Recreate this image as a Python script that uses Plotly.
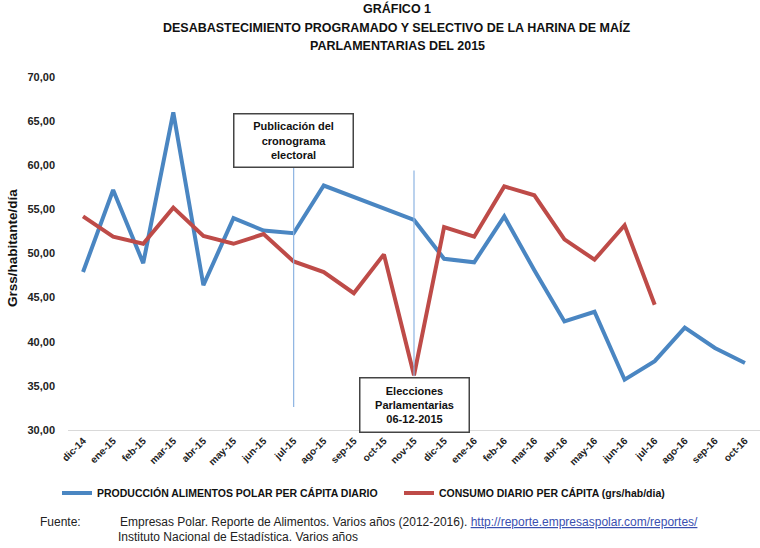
import plotly.graph_objects as go

# ---------------------------------------------------------------------------
# Data
# ---------------------------------------------------------------------------
MONTHS = [
    "dic-14", "ene-15", "feb-15", "mar-15", "abr-15", "may-15", "jun-15",
    "jul-15", "ago-15", "sep-15", "oct-15", "nov-15", "dic-15", "ene-16",
    "feb-16", "mar-16", "abr-16", "may-16", "jun-16", "jul-16", "ago-16",
    "sep-16", "oct-16",
]
PRODUCCION = [
    47.9, 57.2, 48.9, 66.0, 46.4, 54.0, 52.6, 52.3, 57.7, 56.4, 55.1, 53.8,
    49.4, 49.0, 54.2, 48.1, 42.3, 43.4, 35.7, 37.8, 41.6, 39.3, 37.6,
]
CONSUMO = [
    54.2, 51.9, 51.1, 55.2, 52.0, 51.1, 52.2, 49.1, 47.9, 45.5, 49.9, 36.2,
    53.0, 51.9, 57.6, 56.6, 51.6, 49.3, 53.2, 44.2,
]
Y_TICKS = [30, 35, 40, 45, 50, 55, 60, 65, 70]
TITLE_LINES = [
    "GRÁFICO 1",
    "DESABASTECIMIENTO PROGRAMADO Y SELECTIVO DE LA HARINA DE MAÍZ",
    "PARLAMENTARIAS DEL 2015",
]

# ---------------------------------------------------------------------------
# Styling / geometry
# ---------------------------------------------------------------------------
FONT = "Liberation Sans Narrow, Liberation Sans, Arial, sans-serif"
COLOR_PROD = "#4A86C2"   # blue
COLOR_CONS = "#BE4B48"   # red
COLOR_EVENT = "#8DB4E2"  # thin marker lines

W, H = 760, 548
L, R, T, B = 68, 0, 77, 118


def px_x(px):
    """Screen pixel x -> paper x."""
    return (px - L) / (W - L - R)


def px_y(py):
    """Screen pixel y -> paper y."""
    return (H - B - py) / (H - T - B)


fig = go.Figure()

fig.add_trace(go.Scatter(
    x=MONTHS,
    y=PRODUCCION,
    mode="lines",
    name="<b>PRODUCCIÓN ALIMENTOS POLAR PER CÁPITA DIARIO</b>",
    line=dict(color=COLOR_PROD, width=4),
))

fig.add_trace(go.Scatter(
    x=MONTHS[:len(CONSUMO)],
    y=CONSUMO,
    mode="lines",
    name="<b>CONSUMO DIARIO PER CÁPITA (grs/hab/dia)</b>",
    line=dict(color=COLOR_CONS, width=4),
))

# event lines
for month, y0, y1 in [("jul-15", 32.6, 59.7), ("nov-15", 36.1, 59.4)]:
    idx = MONTHS.index(month)
    fig.add_shape(type="line", xref="x", yref="y",
                  x0=idx, x1=idx, y0=y0, y1=y1,
                  line=dict(color=COLOR_EVENT, width=1.2))

# event boxes
box_font = dict(family=FONT, size=11, color="#111111")
fig.add_annotation(
    x=MONTHS.index("jul-15"), y=62.8, xref="x", yref="y",
    text="<b>Publicación del<br>cronograma<br>electoral</b>",
    showarrow=False, font=box_font, align="center",
    width=116, height=50, bgcolor="white",
    bordercolor="#444444", borderwidth=1.5,
)
fig.add_annotation(
    x=MONTHS.index("nov-15"), y=32.85, xref="x", yref="y",
    text="<b>Elecciones<br>Parlamentarias<br>06-12-2015</b>",
    showarrow=False, font=box_font, align="center",
    width=106, height=51, bgcolor="white",
    bordercolor="#444444", borderwidth=1.5,
)

# title: first line as the layout title, the rest as annotations
title_font = dict(family=FONT, size=12.5, color="#111111")
for i, line in enumerate(TITLE_LINES[1:], start=1):
    fig.add_annotation(
        x=px_x(397), y=px_y(9 + 18.5 * i),
        xref="paper", yref="paper", xanchor="center", yanchor="middle",
        text=f"<b>{line}</b>", showarrow=False, font=title_font,
    )

# y axis title
fig.add_annotation(
    x=px_x(12), y=px_y(248), xref="paper", yref="paper",
    xanchor="center", yanchor="middle", textangle=-90, showarrow=False,
    text="<b>Grss/habitante/día</b>",
    font=dict(family=FONT, size=13.5, color="#111111"),
)

# footer
foot_font = dict(family=FONT, size=12, color="#222222")
fig.add_annotation(
    x=px_x(38), y=px_y(522), xref="paper", yref="paper",
    xanchor="left", yanchor="middle", showarrow=False,
    text="Fuente:", font=foot_font,
)
fig.add_annotation(
    x=px_x(118), y=px_y(522), xref="paper", yref="paper",
    xanchor="left", yanchor="middle", showarrow=False,
    text=("Empresas Polar. Reporte de Alimentos. Varios años (2012-2016). "
          "<span style='color:#3A4FB0'><u>http://reporte.empresaspolar.com/reportes/</u></span>"),
    font=foot_font,
)
fig.add_annotation(
    x=px_x(116), y=px_y(537), xref="paper", yref="paper",
    xanchor="left", yanchor="middle", showarrow=False,
    text="Instituto Nacional de Estadística. Varios años", font=foot_font,
)

fig.update_layout(
    width=W,
    height=H,
    margin=dict(l=L, r=R, t=T, b=B, autoexpand=False),
    paper_bgcolor="white",
    plot_bgcolor="white",
    separators=",.",
    font=dict(family=FONT, color="#222222"),
    title=dict(
        text=f"<b>{TITLE_LINES[0]}</b>", font=title_font,
        xref="container", yref="container",
        x=397 / W, xanchor="center",
        y=1 - 9 / H, yanchor="middle",
        automargin=False,
    ),
    showlegend=True,
    legend=dict(
        orientation="h", xref="container", yref="container",
        x=57 / W, y=1 - 493 / H,
        xanchor="left", yanchor="middle",
        font=dict(family=FONT, size=10.5, color="#111111"),
        itemwidth=30, entrywidth=297, traceorder="normal",
        bgcolor="rgba(0,0,0,0)",
    ),
    xaxis=dict(
        type="category",
        categoryorder="array", categoryarray=MONTHS,
        range=[-0.5, len(MONTHS) - 0.5],
        showgrid=False, zeroline=False, automargin=False,
        showline=True, linecolor="#D9D9D9", linewidth=1,
        ticks="", tickangle=-45,
        tickfont=dict(family=FONT, size=10, color="#222222", weight="bold"),
    ),
    yaxis=dict(
        range=[30, 70],
        tickvals=Y_TICKS, tickformat=".2f",
        showgrid=False, zeroline=False, showline=False, automargin=False,
        ticks="", ticklabelstandoff=12,
        tickfont=dict(family=FONT, size=11, color="#222222", weight="bold"),
    ),
)

# drop the default page margin so the figure sits at the window corner
fig.write_html(
    "out.html",
    config={"displayModeBar": False},
    post_script="document.body.style.margin='0';",
)
